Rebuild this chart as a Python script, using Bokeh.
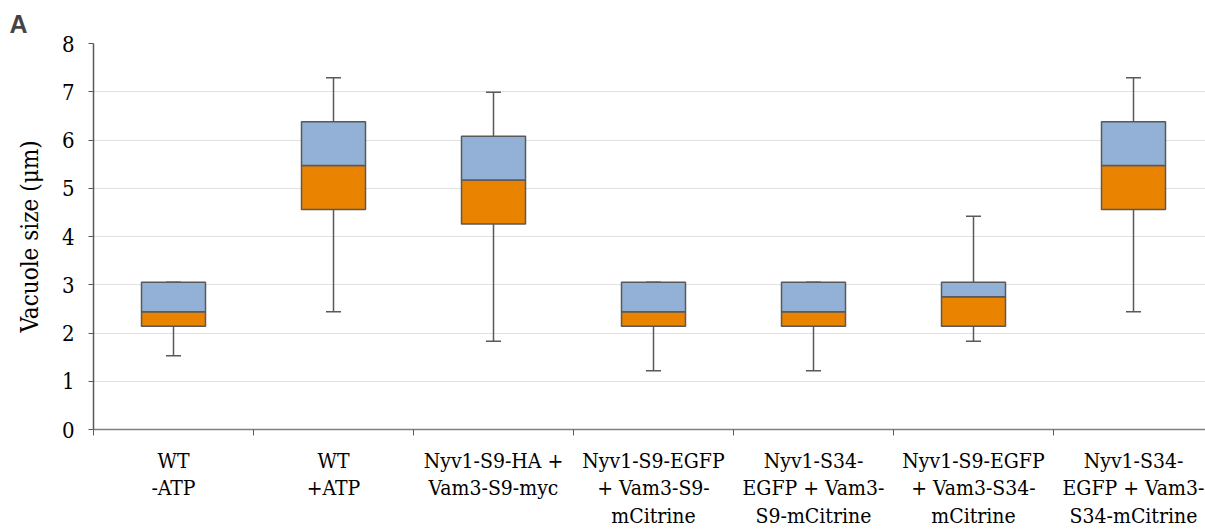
from bokeh.plotting import figure
from bokeh.models import ColumnDataSource, FixedTicker, Range1d, Title
from bokeh.embed import file_html
from bokeh.resources import INLINE

categories = ["WT\n-ATP", "WT\n+ATP", "Nyv1-S9-HA +\nVam3-S9-myc",
              "Nyv1-S9-EGFP\n+ Vam3-S9-\nmCitrine",
              "Nyv1-S34-\nEGFP + Vam3-\nS9-mCitrine",
              "Nyv1-S9-EGFP\n+ Vam3-S34-\nmCitrine",
              "Nyv1-S34-\nEGFP + Vam3-\nS34-mCitrine"]
whisker_min = [1.53, 2.44, 1.83, 1.22, 1.22, 1.83, 2.44]
q1 = [2.14, 4.56, 4.26, 2.14, 2.14, 2.14, 4.56]
median = [2.44, 5.47, 5.17, 2.44, 2.44, 2.75, 5.47]
q3 = [3.05, 6.38, 6.08, 3.05, 3.05, 3.05, 6.38]
whisker_max = [3.05, 7.29, 6.99, 3.05, 3.05, 4.42, 7.29]

xs = [i + 0.5 for i in range(len(categories))]
src = ColumnDataSource(dict(x=xs, mn=whisker_min, q1=q1, med=median, q3=q3, mx=whisker_max))

SERIF = "DejaVu Serif Condensed"

p = figure(width=1205, height=530, output_backend="svg", toolbar_location=None,
           x_range=Range1d(0, 6.95), y_range=Range1d(0, 8),
           min_border_left=93, min_border_right=0, min_border_top=43, min_border_bottom=97)
p.outline_line_color = None
p.background_fill_color = "white"
p.border_fill_color = "white"

t = Title(text="A", align="left", text_font="Liberation Sans", text_font_size="25px",
          text_font_style="bold", offset=-84, standoff=11)
p.add_layout(t, "above")

wc = "#595959"
p.segment(x0="x", y0="q3", x1="x", y1="mx", source=src, line_color=wc, line_width=1.5)
p.segment(x0="x", y0="mn", x1="x", y1="q1", source=src, line_color=wc, line_width=1.5)
p.scatter(x="x", y="mx", source=src, marker="dash", size=15, line_color=wc, line_width=1.5)
p.scatter(x="x", y="mn", source=src, marker="dash", size=15, line_color=wc, line_width=1.5)

p.vbar(x="x", bottom="q1", top="med", width=0.4, source=src, fill_color="#E98300",
       line_color=wc, line_width=1.5)
p.vbar(x="x", bottom="med", top="q3", width=0.4, source=src, fill_color="#93B1D7",
       line_color=wc, line_width=1.5)

p.xgrid.grid_line_color = None
p.ygrid.grid_line_color = "#e0e0e0"
p.ygrid.grid_line_width = 1
p.yaxis.ticker = FixedTicker(ticks=list(range(0, 9)))
p.yaxis.axis_label = "Vacuole size (\u03bcm)"
p.yaxis.axis_label_text_font = SERIF
p.yaxis.axis_label_text_font_size = "24px"
p.yaxis.axis_label_text_font_style = "normal"
p.yaxis.axis_label_text_color = "black"
p.yaxis.axis_label_standoff = 15
p.yaxis.major_label_text_font = SERIF
p.yaxis.major_label_text_font_size = "22px"
p.yaxis.major_label_text_color = "black"
p.yaxis.axis_line_color = "#595959"
p.yaxis.axis_line_width = 1.5
p.yaxis.major_tick_line_color = "#595959"
p.yaxis.major_tick_out = 5
p.yaxis.major_tick_in = 0
p.yaxis.minor_tick_line_color = None
p.yaxis.major_label_standoff = 14

p.xaxis.ticker = FixedTicker(ticks=xs, minor_ticks=list(range(0, 8)))
p.xaxis.major_label_overrides = {x: c for x, c in zip(xs, categories)}
p.xaxis.major_tick_out = 0
p.xaxis.major_tick_in = 0
p.xaxis.minor_tick_out = 6
p.xaxis.minor_tick_in = 0
p.xaxis.minor_tick_line_color = "#595959"
p.xaxis.axis_line_color = "#808080"
p.xaxis.axis_line_width = 1.5
p.xaxis.major_label_text_font = SERIF
p.xaxis.major_label_text_font_size = "21px"
p.xaxis.major_label_text_color = "black"
p.xaxis.major_label_text_line_height = 1.15
p.xaxis.major_label_standoff = 13

open("out.html", "w").write(file_html(p, INLINE))
